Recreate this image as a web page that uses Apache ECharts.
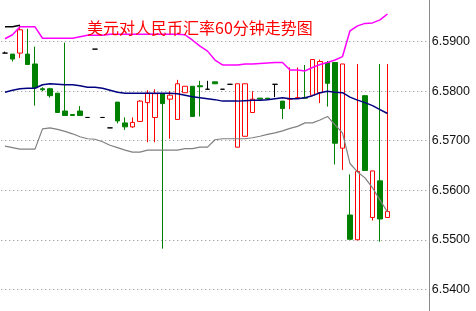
<!DOCTYPE html>
<html><head><meta charset="utf-8">
<script src="https://cdn.jsdelivr.net/npm/echarts@6/dist/echarts.min.js"></script>
<style>html,body{margin:0;padding:0;background:#fff}#c{width:476px;height:311px}</style>
</head><body><div id="c"></div>
<script>
const title = '美元对人民币汇率60分钟走势图';
const categories = ['1','2','3','4','5','6','7','8','9','10','11','12','13','14','15','16','17','18','19','20','21','22','23','24','25','26','27','28','29','30','31','32','33','34','35','36','37','38','39','40','41','42','43','44','45','46','47','48','49','50','51','52'];
const padSlots = ['p1','p2','p3','p4','p5'];
// [open, close, low, high]
const candles = [
[6.5877,6.5877,6.5877,6.5880],[6.5875,6.5865,6.5860,6.5875],[6.5877,6.5924,6.5867,6.5932],[6.5875,6.5854,6.5854,6.5926],
[6.5855,6.5807,6.5771,6.5890],[6.5805,6.5803,6.5800,6.5808],[6.5805,6.5791,6.5787,6.5807],[6.5796,6.5757,6.5757,6.5796],
[6.5760,6.5751,6.5751,6.5898],[6.5753,6.5751,6.5751,6.5753],[6.5760,6.5751,6.5751,6.5770],[6.5747,6.5747,6.5747,6.5747],
[6.5885,6.5885,6.5885,6.5885],[6.5747,6.5747,6.5747,6.5747],[6.5726,6.5726,6.5726,6.5726],[6.5778,6.5740,6.5735,6.5778],
[6.5736,6.5728,6.5722,6.5747],[6.5728,6.5737,6.5726,6.5747],[6.5739,6.5780,6.5739,6.5782],[6.5777,6.5796,6.5697,6.5802],
[6.5747,6.5795,6.5697,6.5804],[6.5795,6.5775,6.5482,6.5795],[6.5784,6.5792,6.5704,6.5800],[6.5743,6.5815,6.5743,6.5823],
[6.5797,6.5810,6.5797,6.5810],[6.5810,6.5749,6.5749,6.5810],[6.5811,6.5809,6.5749,6.5821],[6.5804,6.5804,6.5804,6.5821],
[6.5819,6.5815,6.5815,6.5819],[6.5804,6.5804,6.5804,6.5804],[6.5814,6.5814,6.5814,6.5814],[6.5687,6.5815,6.5687,6.5815],
[6.5709,6.5815,6.5709,6.5815],[6.5757,6.5784,6.5757,6.5800],[6.5786,6.5784,6.5784,6.5786],[6.5786,6.5784,6.5784,6.5786],
[6.5814,6.5814,6.5788,6.5814],[6.5780,6.5765,6.5744,6.5780],[6.5784,6.5785,6.5764,6.5848],[6.5786,6.5787,6.5786,6.5848],
[6.5787,6.5786,6.5786,6.5853],[6.5792,6.5864,6.5792,6.5864],[6.5797,6.5860,6.5776,6.5864],[6.5858,6.5816,6.5769,6.5861],
[6.5858,6.5695,6.5652,6.5858],[6.5685,6.5855,6.5641,6.5855],[6.5550,6.5501,6.5501,6.5632],[6.5500,6.5638,6.5500,6.5855],
[6.5791,6.5640,6.5640,6.5791],[6.5545,6.5639,6.5539,6.5639],[6.5619,6.5542,6.5496,6.5855],[6.5545,6.5557,6.5545,6.5855]
];
const upperBand = [6.5906,6.5914,6.5930,6.5930,6.5930,6.5907,6.5907,6.5907,6.5907,6.5907,6.5910,6.5913,6.5913,6.5913,
6.5915,6.5915,6.5915,6.5915,6.5915,6.5915,6.5915,6.5915,6.5915,6.5915,6.5914,6.5903,6.5891,6.5881,6.5863,6.5853,6.5853,
6.5853,6.5855,6.5855,6.5856,6.5857,6.5858,6.5858,6.5843,6.5843,6.5841,6.5848,6.5854,6.5858,6.5863,6.5870,6.5922,6.5932,
6.5937,6.5938,6.5944,6.5956];
const middleBand = [6.5798,6.5802,6.5805,6.5806,6.5806,6.5813,6.5815,6.5814,6.5813,6.5813,6.5811,6.5808,6.5808,6.5806,
6.5802,6.5798,6.5796,6.5796,6.5796,6.5796,6.5796,6.5796,6.5796,6.5795,6.5792,6.5789,6.5787,6.5785,6.5783,6.5780,6.5780,
6.5780,6.5781,6.5782,6.5782,6.5783,6.5785,6.5787,6.5785,6.5785,6.5787,6.5791,6.5797,6.5800,6.5798,6.5797,6.5788,6.5782,
6.5777,6.5771,6.5763,6.5755];
const lowerBand = [6.5689,6.5686,6.5683,6.5683,6.5683,6.5724,6.5726,6.5723,6.5719,6.5714,6.5708,6.5704,6.5703,6.5698,
6.5691,6.5686,6.5681,6.5677,6.5677,6.5681,6.5681,6.5681,6.5681,6.5681,6.5684,6.5684,6.5687,6.5687,6.5702,6.5704,6.5704,
6.5704,6.5704,6.5706,6.5709,6.5713,6.5716,6.5720,6.5725,6.5729,6.5736,6.5736,6.5742,6.5749,6.5732,6.5716,6.5654,6.5637,
6.5625,6.5605,6.5580,6.5556];
const prevSegment = [6.5930,6.5930,6.5933];
const yMin = 6.53, yMax = 6.61, yStep = 0.01;

const candleData = candles.map(d => d[0] === d[1]
  ? {value: d, itemStyle: {borderColor: '#000', borderColor0: '#000', color: '#000', color0: '#000'}}
  : d);

const chart = echarts.init(document.getElementById('c'), null, {renderer: 'canvas'});
chart.setOption({
  animation: false,
  backgroundColor: '#fff',
  title: {
    text: title, left: 87, top: 20, padding: 0,
    textStyle: {color: '#ff0000', fontSize: 16, fontWeight: 'normal', fontFamily: 'Noto Sans CJK SC'}
  },
  grid: {left: 1.25, right: 47.25, top: -57.34, bottom: -27.82, containLabel: false, outerBoundsMode: 'none'},
  xAxis: {
    type: 'category', data: categories.concat(padSlots), boundaryGap: true,
    axisLine: {show: false}, axisTick: {show: false}, axisLabel: {show: false}, splitLine: {show: false}
  },
  yAxis: {
    type: 'value', position: 'right', min: yMin, max: yMax, interval: yStep,
    axisLine: {show: true, lineStyle: {color: '#888', width: 1}},
    axisTick: {show: false},
    axisLabel: {
      margin: 3, color: '#111', fontSize: 12.5, fontFamily: 'Liberation Sans',
      padding: [4, 0, 0, 0],
      formatter: v => v.toFixed(4)
    },
    splitLine: {show: true, lineStyle: {color: '#888', width: 1, type: [1, 3]}}
  },
  series: [
    {
      type: 'candlestick', data: candleData, barWidth: 5,
      itemStyle: {color: '#fff', color0: '#008000', borderColor: '#ff0000', borderColor0: '#008000', borderWidth: 1}
    },
    {type: 'line', data: upperBand, symbol: 'none', lineStyle: {color: '#ff00ff', width: 1.5}},
    {type: 'line', data: middleBand, symbol: 'none', lineStyle: {color: '#000080', width: 1.5}},
    {type: 'line', data: lowerBand, symbol: 'none', lineStyle: {color: '#808080', width: 1.2}},
    {type: 'line', data: prevSegment, symbol: 'none', lineStyle: {color: '#000', width: 1.5}}
  ]
});
</script></body></html>
